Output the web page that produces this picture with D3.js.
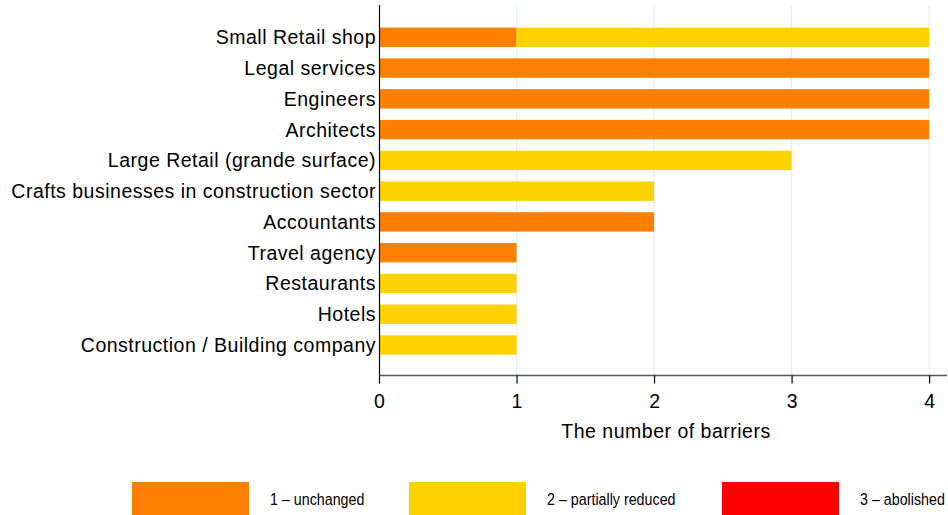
<!DOCTYPE html>
<html>
<head>
<meta charset="utf-8">
<script src="https://cdn.jsdelivr.net/npm/d3@7"></script>
<style>
  html, body { margin: 0; padding: 0; background: #fff; }
  svg { display: block; }
  text { font-family: Arial, "Liberation Sans", sans-serif; fill: #000; }
</style>
</head>
<body>
<svg id="chart" width="948" height="515"></svg>
<script>
// Professions and their barrier counts by status
const categories = [
  "Small Retail shop",
  "Legal services",
  "Engineers",
  "Architects ",
  "Large Retail (grande surface)",
  "Crafts businesses in construction sector",
  "Accountants",
  "Travel agency",
  "Restaurants",
  "Hotels",
  "Construction / Building company"
];
const unchanged        = [1, 4, 4, 4, 0, 0, 2, 1, 0, 0, 0];
const partiallyReduced = [3, 0, 0, 0, 3, 2, 0, 0, 1, 1, 1];
const abolished        = [0, 0, 0, 0, 0, 0, 0, 0, 0, 0, 0];

const seriesNames = ["1 \u2013 unchanged", "2 \u2013 partially reduced", "3 \u2013 abolished"];
const seriesColors = ["#ff7f00", "#ffd200", "#ff0000"];
const xTicks = [0, 1, 2, 3, 4];
const xTitle = "The number of barriers";

const labelFont = "19.5px";
const labelSpacing = "0.5px";

const svg = d3.select("#chart");

const x = d3.scaleLinear().domain([0, 4.13]).range([379, 947]);
const y = d3.scaleBand()
  .domain(categories)
  .range([21.9, 360.4])
  .paddingInner(0.37)
  .paddingOuter(0.185);

const plotTop = 5, plotBottom = 375.5;

// vertical gridlines
svg.append("g")
  .selectAll("line")
  .data(xTicks.filter(d => d > 0))
  .join("line")
  .attr("x1", d => x(d)).attr("x2", d => x(d))
  .attr("y1", plotTop).attr("y2", plotBottom)
  .attr("stroke", "#e6edf3")
  .attr("stroke-width", 1.3);

// stacked bars
const rows = categories.map((c, i) => ({
  category: c,
  values: [unchanged[i], partiallyReduced[i], abolished[i]]
}));
const stack = d3.stack()
  .keys([0, 1, 2])
  .value((d, k) => d.values[k]);
const layers = stack(rows);

svg.append("g")
  .selectAll("g")
  .data(layers)
  .join("g")
  .attr("fill", (d, i) => seriesColors[i])
  .selectAll("rect")
  .data(d => d.filter(s => s[1] - s[0] > 0))
  .join("rect")
  .attr("x", s => x(s[0]))
  .attr("width", s => x(s[1]) - x(s[0]))
  .attr("y", s => y(s.data.category))
  .attr("height", y.bandwidth());

// left axis line and category labels
svg.append("line")
  .attr("x1", 379.5).attr("x2", 379.5)
  .attr("y1", plotTop).attr("y2", plotBottom)
  .attr("stroke", "#000").attr("stroke-width", 1.2);

svg.append("g")
  .selectAll("text")
  .data(categories)
  .join("text")
  .attr("x", 376)
  .attr("y", d => y(d) + y.bandwidth() / 2)
  .attr("dy", "0.36em")
  .attr("text-anchor", "end")
  .style("font-size", labelFont)
  .style("letter-spacing", labelSpacing)
  .text(d => d);

// bottom axis
const xAxis = svg.append("g")
  .attr("transform", `translate(0,${plotBottom})`)
  .call(d3.axisBottom(x).tickValues(xTicks).tickSize(8).tickPadding(11).tickFormat(d3.format("d")));
xAxis.select(".domain").attr("stroke", "#555").attr("stroke-width", 1.6).attr("d", `M${x(0)},0H947`);
xAxis.selectAll(".tick line").attr("stroke", "#000").attr("stroke-width", 1.2);
xAxis.selectAll(".tick text")
  .style("font-family", "Arial, 'Liberation Sans', sans-serif")
  .style("font-size", labelFont)
  .attr("fill", "#000");

svg.append("text")
  .attr("x", 666)
  .attr("y", 438)
  .attr("text-anchor", "middle")
  .style("font-size", labelFont)
  .style("letter-spacing", labelSpacing)
  .text(xTitle);

// legend
const legendX = [132, 409, 722];
const legend = svg.append("g")
  .selectAll("g")
  .data(seriesNames)
  .join("g")
  .attr("transform", (d, i) => `translate(${legendX[i]},482)`);
legend.append("rect")
  .attr("width", 117).attr("height", 33)
  .attr("fill", (d, i) => seriesColors[i]);
legend.append("text")
  .attr("transform", "translate(138,17.5) scale(0.84,1)")
  .attr("dy", "0.35em")
  .style("font-size", "17px")
  .text(d => d);
</script>
</body>
</html>
